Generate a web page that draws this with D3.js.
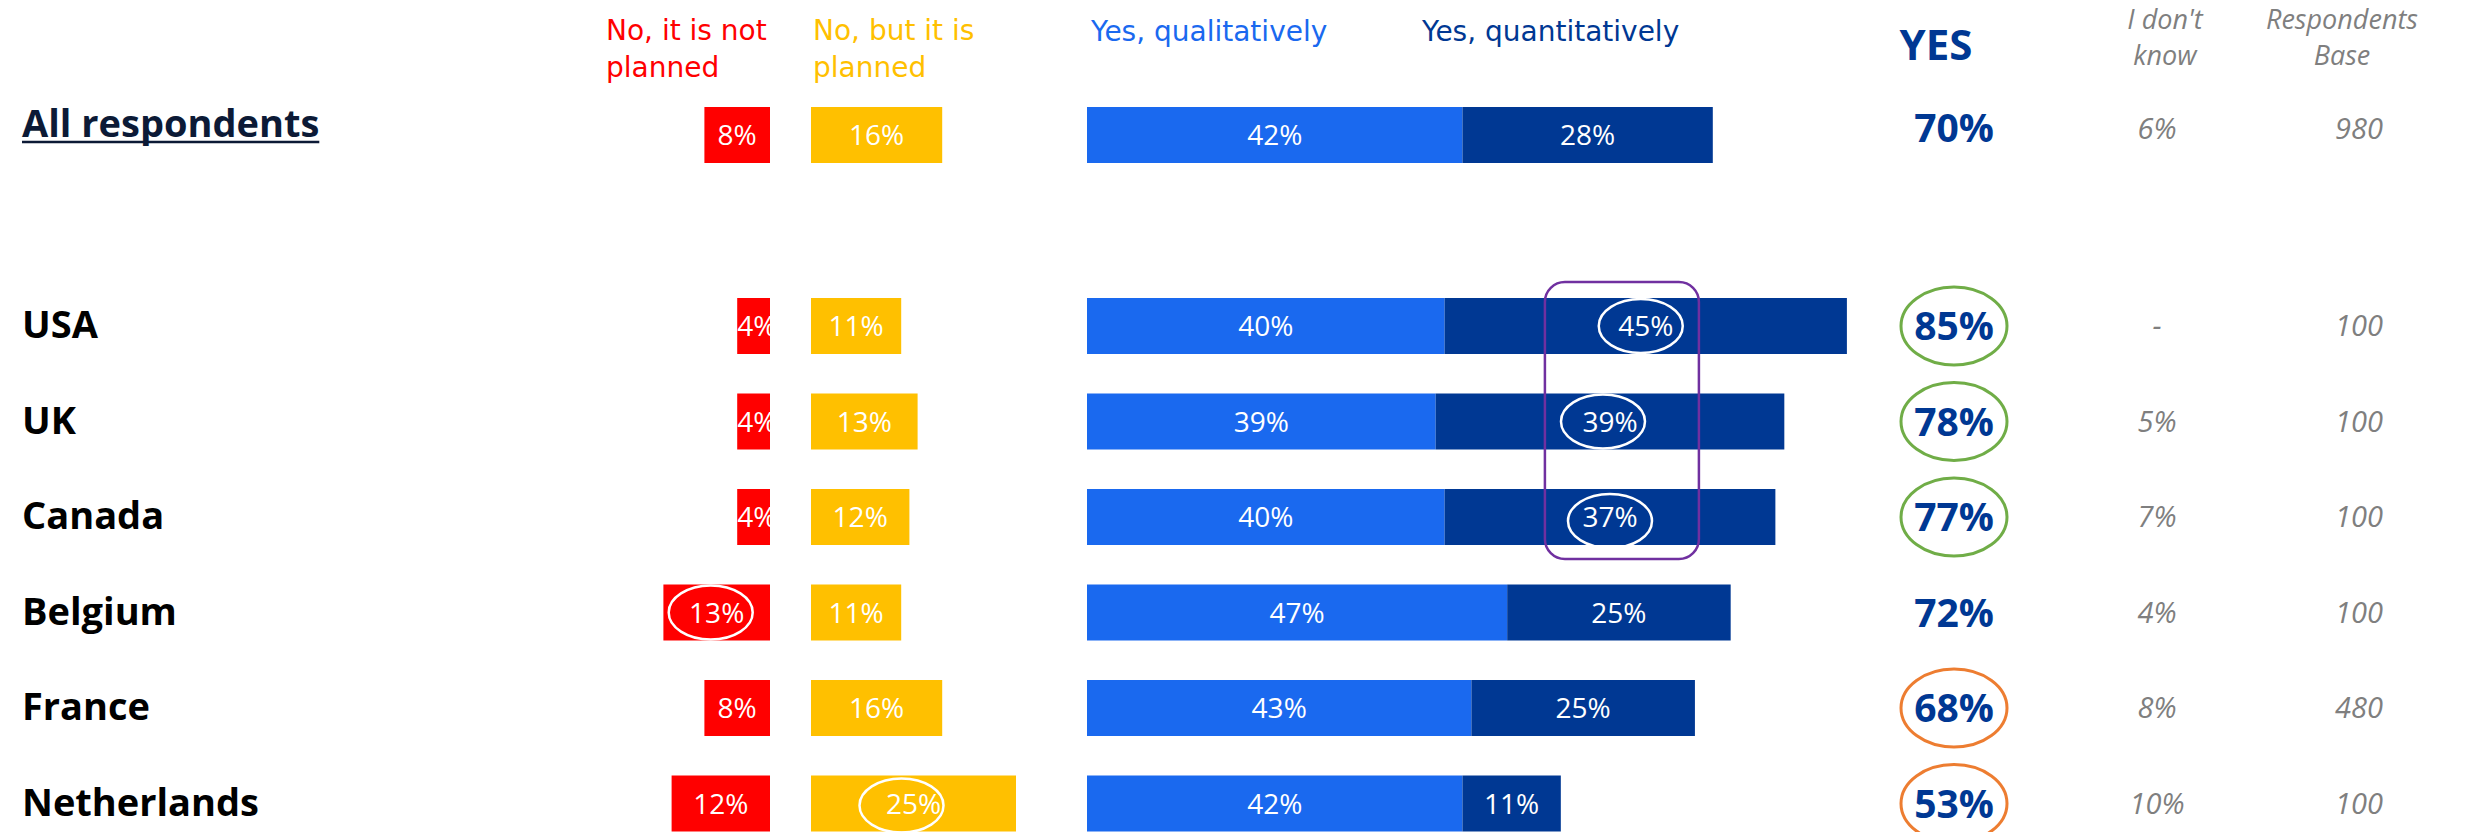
<!DOCTYPE html>
<html>
<head>
<meta charset="utf-8">
<script src="https://cdn.jsdelivr.net/npm/d3@7"></script>
<style>
  html, body { margin: 0; padding: 0; background: #ffffff; }
  svg { display: block; }
</style>
</head>
<body>
<svg id="chart" width="2471" height="832"></svg>
<script>
// Survey answers per country, in percent of respondents
const categories   = ["All respondents", "USA", "UK", "Canada", "Belgium", "France", "Netherlands"];
const notPlanned   = [8, 4, 4, 4, 13, 8, 12];
const butPlanned   = [16, 11, 13, 12, 11, 16, 25];
const qualitative  = [42, 40, 39, 40, 47, 43, 42];
const quantitative = [28, 45, 39, 37, 25, 25, 11];
const yesTotal     = [70, 85, 78, 77, 72, 68, 53];
const dontKnow     = ["6%", "-", "5%", "7%", "4%", "8%", "10%"];
const respondents  = [980, 100, 100, 100, 100, 480, 100];
const yesRating    = [null, "high", "high", "high", null, "low", "low"];

const seriesLabels = {
  notPlanned:   ["No, it is not", "planned"],
  butPlanned:   ["No, but it is", "planned"],
  qualitative:  ["Yes, qualitatively"],
  quantitative: ["Yes, quantitatively"],
  yes:          "YES",
  dontKnow:     ["I don't", "know"],
  base:         ["Respondents", "Base"]
};

// Cells that carry a hand-drawn circle, and the boxed group of cells
const circledNo    = { series: "notPlanned", cats: ["Belgium"] };
const circledPlan  = { series: "butPlanned", cats: ["Netherlands"] };
const circledQuant = ["USA", "UK", "Canada"];

const colors = {
  notPlanned: "#ff0000",
  butPlanned: "#ffc000",
  qualitative: "#1a69ef",
  quantitative: "#003893",
  yes: "#003893",
  grey: "#7f7f7f",
  high: "#70ad47",
  low: "#ed7d31",
  box: "#7030a0"
};

const svg = d3.select("#chart");

const rows = categories.map((c, i) => ({
  cat: c, i,
  no: notPlanned[i], plan: butPlanned[i],
  qual: qualitative[i], quant: quantitative[i],
  yes: yesTotal[i], dk: dontKnow[i], base: respondents[i], rating: yesRating[i]
}));

// Vertical layout: one empty slot separates the overall row from the countries
const slots = [categories[0], "", ...categories.slice(1)];
const y = d3.scalePoint().domain(slots).range([135, 803.5]);
const barH = 56;

// Horizontal scales
const xNo  = d3.scaleLinear().domain([0, 100]).range([0, 820]);
const xYes = d3.scaleLinear().domain([0, 100]).range([0, 894]);
const noRight  = 770;   // red bars grow leftwards from here
const planLeft = 811;   // yellow bars grow rightwards from here
const yesLeft  = 1087;  // stacked blue bars start here

const colYes  = 1954;
const colDk   = 2157;
const colBase = 2359;

const fSans  = "'Open Sans', 'Noto Sans', sans-serif";
const fHead  = "'DejaVu Sans', Verdana, sans-serif";

// ---- Column headers ----
function header(lines, x, anchor, color, opts = {}) {
  const t = svg.append("text")
    .attr("x", x).attr("y", opts.y0 || 40)
    .attr("text-anchor", anchor)
    .attr("fill", color)
    .attr("font-family", opts.family || fHead)
    .attr("font-size", opts.size || 28)
    .attr("font-style", opts.style || "normal");
  lines.forEach((l, k) => {
    t.append("tspan").attr("x", x).attr("dy", k === 0 ? 0 : (opts.lh || 37)).text(l);
  });
}
header(seriesLabels.notPlanned, 606, "start", colors.notPlanned);
header(seriesLabels.butPlanned, 813, "start", colors.butPlanned);
header(seriesLabels.qualitative, 1091, "start", colors.qualitative, { y0: 41 });
header(seriesLabels.quantitative, 1422, "start", colors.quantitative, { y0: 41 });
header(seriesLabels.dontKnow, 2165, "middle", colors.grey, { family: fSans, style: "italic", size: 27, y0: 29, lh: 36 });
header(seriesLabels.base, 2342, "middle", colors.grey, { family: fSans, style: "italic", size: 27, y0: 29, lh: 36 });

svg.append("text")
  .attr("x", 1936).attr("y", 60)
  .attr("text-anchor", "middle")
  .attr("fill", colors.yes)
  .attr("font-family", fSans).attr("font-weight", 700).attr("font-size", 42)
  .text(seriesLabels.yes);

// The overall row's texts sit a little higher than the country rows'
const textShift = d => d.i === 0 ? -6 : 0;

// ---- Row labels ----
const labels = svg.append("g").selectAll("text").data(rows).join("text")
  .attr("x", 22)
  .attr("y", d => y(d.cat) + (d.i === 0 ? 2 : 12))
  .attr("fill", d => d.i === 0 ? "#0c1a36" : "#000000")
  .attr("font-family", fSans).attr("font-weight", 700).attr("font-size", 38)
  .text(d => d.cat);

labels.filter(d => d.i === 0).each(function(d) {
  const len = this.getComputedTextLength();
  svg.append("line")
    .attr("x1", 22).attr("x2", 22 + len)
    .attr("y1", y(d.cat) + 7).attr("y2", y(d.cat) + 7)
    .attr("stroke", "#0c1a36").attr("stroke-width", 2.5);
});

// ---- Bars ----
const defs = svg.append("defs");
let clipId = 0;

function segment(g, x0, w, yc, fill, value, opts = {}) {
  const id = "clip" + (clipId++);
  defs.append("clipPath").attr("id", id)
    .append("rect").attr("x", x0).attr("y", yc - barH / 2).attr("width", w).attr("height", barH);
  g.append("rect")
    .attr("x", x0).attr("y", yc - barH / 2)
    .attr("width", w).attr("height", barH)
    .attr("fill", fill);
  const t = g.append("text")
    .attr("clip-path", `url(#${id})`)
    .attr("x", x0 + w / 2).attr("y", yc)
    .attr("dy", "0.36em")
    .attr("text-anchor", "middle")
    .attr("fill", "#ffffff")
    .attr("font-family", fSans).attr("font-size", 28)
    .text(value + "%");
  const tw = t.node().getComputedTextLength();
  if (tw > w) t.attr("x", x0).attr("text-anchor", "start");
  if (opts.circle) {
    g.append("ellipse")
      .attr("cx", x0 + w / 2 + (opts.dx || 0)).attr("cy", yc + (opts.dy || 0))
      .attr("rx", 42).attr("ry", 27)
      .attr("fill", "none").attr("stroke", "#ffffff").attr("stroke-width", 2.5);
  }
}

const bars = svg.append("g");
const quantOff = { USA: -5, UK: -7, Canada: 0 };
rows.forEach(d => {
  const yc = y(d.cat);
  const g = bars.append("g");
  const wNo = xNo(d.no);
  segment(g, noRight - wNo, wNo, yc, colors.notPlanned, d.no,
    { circle: circledNo.cats.includes(d.cat), dx: -6 });
  segment(g, planLeft, xNo(d.plan), yc, colors.butPlanned, d.plan,
    { circle: circledPlan.cats.includes(d.cat), dx: -12, dy: 2 });
  segment(g, yesLeft, xYes(d.qual), yc, colors.qualitative, d.qual);
  segment(g, yesLeft + xYes(d.qual), xYes(d.quant), yc, colors.quantitative, d.quant,
    { circle: circledQuant.includes(d.cat), dx: quantOff[d.cat] || 0, dy: d.cat === "Canada" ? 4 : 0 });
});

// Rounded box around the circled quantitative cells
const boxed = rows.filter(d => circledQuant.includes(d.cat));
const boxCx = d3.mean(boxed, d => yesLeft + xYes(d.qual) + xYes(d.quant) / 2);
const boxTop = y(boxed[0].cat) - 44;
const boxBottom = y(boxed[boxed.length - 1].cat) + 42;
svg.append("rect")
  .attr("x", boxCx - 77).attr("y", boxTop)
  .attr("width", 154).attr("height", boxBottom - boxTop)
  .attr("rx", 20).attr("ry", 20)
  .attr("fill", "none").attr("stroke", colors.box).attr("stroke-width", 2.5);

// ---- YES totals ----
const yesG = svg.append("g");
yesG.selectAll("ellipse").data(rows.filter(d => d.rating)).join("ellipse")
  .attr("cx", colYes).attr("cy", d => y(d.cat))
  .attr("rx", 53).attr("ry", 39)
  .attr("fill", "none")
  .attr("stroke", d => colors[d.rating]).attr("stroke-width", 3);
yesG.selectAll("text").data(rows).join("text")
  .attr("x", colYes).attr("y", d => y(d.cat) + 14 + textShift(d) * 1.2)
  .attr("text-anchor", "middle")
  .attr("fill", colors.yes)
  .attr("font-family", fSans).attr("font-weight", 700).attr("font-size", 39)
  .text(d => d.yes + "%");

// ---- Don't know / respondents base ----
svg.append("g").selectAll("text").data(rows).join("text")
  .attr("x", colDk).attr("y", d => y(d.cat) + 10 + textShift(d))
  .attr("text-anchor", "middle")
  .attr("fill", colors.grey)
  .attr("font-family", fSans).attr("font-style", "italic").attr("font-size", 29)
  .text(d => d.dk);

svg.append("g").selectAll("text").data(rows).join("text")
  .attr("x", colBase).attr("y", d => y(d.cat) + 10 + textShift(d))
  .attr("text-anchor", "middle")
  .attr("fill", colors.grey)
  .attr("font-family", fSans).attr("font-style", "italic").attr("font-size", 29)
  .text(d => d.base);
</script>
</body>
</html>
